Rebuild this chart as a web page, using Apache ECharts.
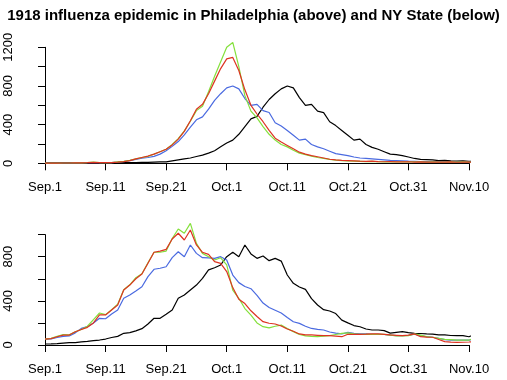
<!DOCTYPE html>
<html>
<head>
<meta charset="utf-8">
<script src="https://cdn.jsdelivr.net/npm/echarts@6/dist/echarts.min.js"></script>
<style>
  html, body { margin: 0; padding: 0; background: #fff; }
  #chart { width: 507px; height: 380px; }
</style>
</head>
<body>
<div id="chart"></div>
<script>
// day index 0 = Sep.1, 71 = Nov.11
const tickLabels = ['Sep.1', 'Sep.11', 'Sep.21', 'Oct.1', 'Oct.11', 'Oct.21', 'Oct.31', 'Nov.10']

// Philadelphia (above)
const phlBlack = [
  8, 7, 6, 6, 6, 5, 5, 5, 6, 6, 6, 6, 7, 7, 8, 8, 9, 10, 12, 14,
  15, 25, 35, 45, 55, 70, 85, 105, 130, 170, 210, 240, 300, 380, 460, 485, 580, 660, 720, 770,
  800, 780, 680, 600, 610, 540, 525, 430, 390, 340, 290, 240, 250, 195, 165, 145, 120, 95, 90, 80,
  65, 50, 40, 38, 35, 28, 30, 25, 22, 25, 20, 20,
]
const phlBlue = [
  2, 2, 2, 3, 3, 4, 5, 6, 8, 8, 6, 8, 12, 18, 28, 40, 52, 60, 72, 95,
  130, 175, 225, 295, 375, 450, 480, 560, 650, 720, 780, 800, 770, 670, 600, 610, 545, 525, 420, 385,
  340, 290, 240, 250, 195, 170, 150, 125, 100, 90, 80, 65, 55, 50, 45, 40, 35, 30, 28, 25,
  22, 20, 18, 18, 15, 15, 15, 14, 13, 12, 12, 12,
]
const phlGreen = [
  2, 2, 2, 3, 3, 4, 5, 8, 13, 8, 6, 8, 14, 20, 30, 45, 60, 72, 95, 120,
  145, 195, 255, 335, 435, 545, 590, 740, 900, 1050, 1200, 1250, 1000, 700, 540, 470, 380, 300, 240, 195,
  170, 135, 105, 90, 75, 60, 50, 40, 32, 28, 24, 22, 20, 18, 20, 16, 15, 18, 14, 15,
  16, 14, 15, 12, 14, 13, 12, 15, 12, 14, 12, 13,
]
const phlRed = [
  2, 2, 2, 3, 3, 4, 5, 6, 9, 8, 7, 8, 12, 18, 28, 45, 60, 75, 95, 120,
  145, 190, 250, 330, 440, 560, 610, 720, 850, 980, 1080, 1095, 960, 760, 600, 510, 430, 340, 260, 220,
  185, 150, 115, 95, 80, 68, 55, 42, 35, 30, 28, 25, 22, 20, 22, 18, 16, 18, 15, 14,
  16, 13, 14, 12, 13, 12, 12, 14, 11, 13, 12, 14,
]

// NY State (below)
const nyBlack = [
  9, 10, 13, 17, 21, 22, 28, 32, 39, 45, 54, 68, 78, 106, 112, 128, 148, 190, 242, 242,
  278, 317, 423, 453, 498, 543, 604, 680, 700, 725, 800, 840, 800, 906, 825, 785, 806, 764, 785, 760,
  634, 559, 525, 504, 420, 362, 320, 308, 285, 225, 200, 176, 165, 145, 136, 136, 130, 108, 115, 121,
  112, 106, 104, 100, 98, 92, 91, 86, 85, 85, 75, 97,
]
const nyBlue = [
  54, 55, 68, 78, 82, 110, 150, 166, 200, 242, 238, 280, 317, 423, 453, 490, 528, 619, 686, 695,
  709, 791, 845, 800, 906, 830, 791, 790, 785, 800, 770, 634, 565, 530, 510, 450, 380, 340, 315, 290,
  250, 211, 196, 170, 150, 142, 136, 118, 108, 100, 115, 105, 100, 100, 97, 97, 95, 90, 85, 85,
  88, 98, 85, 75, 70, 60, 48, 45, 44, 44, 44, 55,
]
const nyGreen = [
  54, 60, 78, 95, 92, 120, 140, 170, 230, 290, 275, 320, 370, 500, 545, 610, 645, 745, 840, 840,
  851, 965, 1051, 1012, 1102, 921, 830, 800, 770, 790, 725, 498, 423, 330, 270, 200, 166, 155, 170, 180,
  150, 121, 95, 82, 78, 76, 80, 85, 95, 105, 110, 100, 97, 97, 97, 97, 97, 90, 82, 82,
  85, 100, 90, 76, 70, 60, 51, 48, 45, 45, 45, 60,
]
const nyRed = [
  54, 58, 75, 90, 90, 120, 140, 160, 200, 272, 272, 317, 362, 498, 543, 600, 643, 740, 840, 851,
  866, 960, 1012, 951, 1042, 906, 840, 821, 755, 740, 665, 520, 415, 375, 310, 258, 211, 197, 190, 172,
  145, 125, 100, 91, 91, 88, 85, 85, 80, 75, 97, 97, 97, 98, 100, 100, 97, 91, 88, 85,
  90, 100, 75, 72, 70, 50, 30, 26, 24, 25, 27, 30,
]

const colors = { black: '#000000', blue: '#4a6ae0', green: '#84e03c', red: '#dd3322' }
const font = 'Liberation Sans, Arial, Helvetica, sans-serif'

const pairs = (arr) => arr.map((v, i) => [i, v])

function xAxis(gridIndex) {
  return {
    type: 'value',
    gridIndex,
    min: 0,
    max: 70,
    interval: 10,
    offset: 5,
    axisLine: { show: true, lineStyle: { color: '#000', width: 1 } },
    axisTick: { show: true, length: 7, lineStyle: { color: '#000', width: 1 } },
    axisLabel: {
      color: '#000',
      fontFamily: font,
      fontSize: 13,
      margin: 13,
      showMinLabel: true,
      showMaxLabel: true,
      formatter: (v) => tickLabels[v / 10] ?? '',
    },
    splitLine: { show: false },
  }
}

function yAxis(gridIndex, max) {
  return {
    type: 'value',
    gridIndex,
    min: 0,
    max,
    interval: 200,
    offset: 17,
    axisLine: { show: true, lineStyle: { color: '#000', width: 1 } },
    axisTick: { show: true, length: 7, lineStyle: { color: '#000', width: 1 } },
    axisLabel: {
      color: '#000',
      fontFamily: font,
      fontSize: 13,
      rotate: 90,
      margin: 13,
      showMinLabel: true,
      showMaxLabel: true,
      formatter: (v) => (v % 400 === 0 ? String(v) : ''),
    },
    splitLine: { show: false },
  }
}

function line(data, color, idx) {
  return {
    type: 'line',
    data: pairs(data),
    xAxisIndex: idx,
    yAxisIndex: idx,
    symbol: 'none',
    clip: false,
    silent: true,
    lineStyle: { color, width: 1.2 },
  }
}

const chart = echarts.init(document.getElementById('chart'), null, { renderer: 'canvas' })
chart.setOption({
  animation: false,
  backgroundColor: '#fff',
  title: {
    text: '1918 influenza epidemic in Philadelphia (above) and NY State (below)',
    left: 'center',
    top: 3,
    textStyle: { fontFamily: font, fontSize: 15, fontWeight: 'bold', color: '#000' },
  },
  grid: [
    { left: 45, right: 38, top: 47.3, height: 116 },
    { left: 45, right: 38, top: 234.6, height: 110.4 },
  ],
  xAxis: [xAxis(0), xAxis(1)],
  yAxis: [yAxis(0, 1200), yAxis(1, 1000)],
  series: [
    line(phlBlack, colors.black, 0),
    line(phlBlue, colors.blue, 0),
    line(phlGreen, colors.green, 0),
    line(phlRed, colors.red, 0),
    line(nyBlack, colors.black, 1),
    line(nyBlue, colors.blue, 1),
    line(nyGreen, colors.green, 1),
    line(nyRed, colors.red, 1),
  ],
})
</script>
</body>
</html>
